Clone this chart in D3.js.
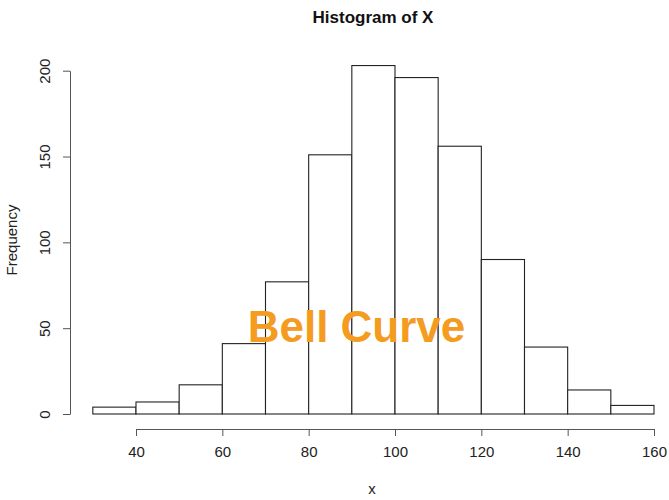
<!DOCTYPE html>
<html>
<head>
<meta charset="utf-8">
<script src="https://cdn.jsdelivr.net/npm/d3@7"></script>
<style>
  html, body { margin: 0; padding: 0; background: #fff; }
  svg text { font-family: "Liberation Sans Narrow", "Arial Narrow", "Liberation Sans", Arial, sans-serif; }
</style>
</head>
<body>
<svg id="chart" width="669" height="500"></svg>
<script>
// Histogram bins (lower/upper edges) and their counts
const binStarts = [30, 40, 50, 60, 70, 80, 90, 100, 110, 120, 130, 140, 150];
const binWidth = 10;
const counts = [4, 7, 17, 41, 77, 151, 203, 196, 156, 90, 39, 14, 5];
const xTicks = [40, 60, 80, 100, 120, 140, 160];
const yTicks = [0, 50, 100, 150, 200];
const titleText = "Histogram of X";
const xLabel = "x";
const yLabel = "Frequency";
const annotation = "Bell Curve";

const svg = d3.select("#chart");

const x = d3.scaleLinear().domain([40, 160]).range([136, 654]);
const y = d3.scaleLinear().domain([0, 200]).range([414, 70.7]);

// Bars
svg.append("g")
  .selectAll("rect")
  .data(binStarts.map((s, i) => ({ x0: s, x1: s + binWidth, n: counts[i] })))
  .join("rect")
  .attr("x", d => x(d.x0))
  .attr("y", d => y(d.n))
  .attr("width", d => x(d.x1) - x(d.x0))
  .attr("height", d => y(0) - y(d.n))
  .attr("fill", "#fff")
  .attr("stroke", "#222")
  .attr("stroke-width", 1.1);

// X axis
const xAxis = svg.append("g")
  .attr("transform", "translate(0,429)")
  .call(d3.axisBottom(x).tickValues(xTicks).tickSize(7).tickSizeOuter(0).tickPadding(10));
xAxis.select(".domain").attr("stroke", "#555");
xAxis.selectAll(".tick line").attr("stroke", "#555");
xAxis.selectAll("text").attr("font-size", 15).attr("fill", "#222");

// Y axis with rotated labels
const yAxis = svg.append("g")
  .attr("transform", "translate(70,0)")
  .call(d3.axisLeft(y).tickValues(yTicks).tickSize(7).tickSizeOuter(0));
yAxis.select(".domain").attr("stroke", "#555");
yAxis.selectAll(".tick line").attr("stroke", "#555");
yAxis.selectAll(".tick text")
  .attr("font-size", 15)
  .attr("fill", "#222")
  .attr("x", null).attr("dy", null)
  .attr("text-anchor", "middle")
  .attr("transform", "translate(-20,0) rotate(-90)");

// Title and axis labels
svg.append("text")
  .attr("x", 373).attr("y", 23)
  .attr("text-anchor", "middle")
  .attr("font-weight", "bold")
  .attr("font-size", 17)
  .attr("fill", "#111")
  .style("font-family", "'Liberation Sans', Arial, sans-serif")
  .text(titleText);

svg.append("text")
  .attr("x", 372).attr("y", 494)
  .attr("text-anchor", "middle")
  .attr("font-size", 15)
  .attr("fill", "#222")
  .text(xLabel);

svg.append("text")
  .attr("transform", "translate(17,240) rotate(-90)")
  .attr("text-anchor", "middle")
  .attr("font-size", 15)
  .attr("fill", "#222")
  .text(yLabel);

// Annotation
svg.append("text")
  .attr("x", 356.5).attr("y", 341.5)
  .attr("text-anchor", "middle")
  .attr("font-weight", "bold")
  .attr("font-size", 44)
  .attr("fill", "#F39C1F")
  .style("font-family", "'Liberation Sans', Arial, sans-serif")
  .text(annotation);
</script>
</body>
</html>
